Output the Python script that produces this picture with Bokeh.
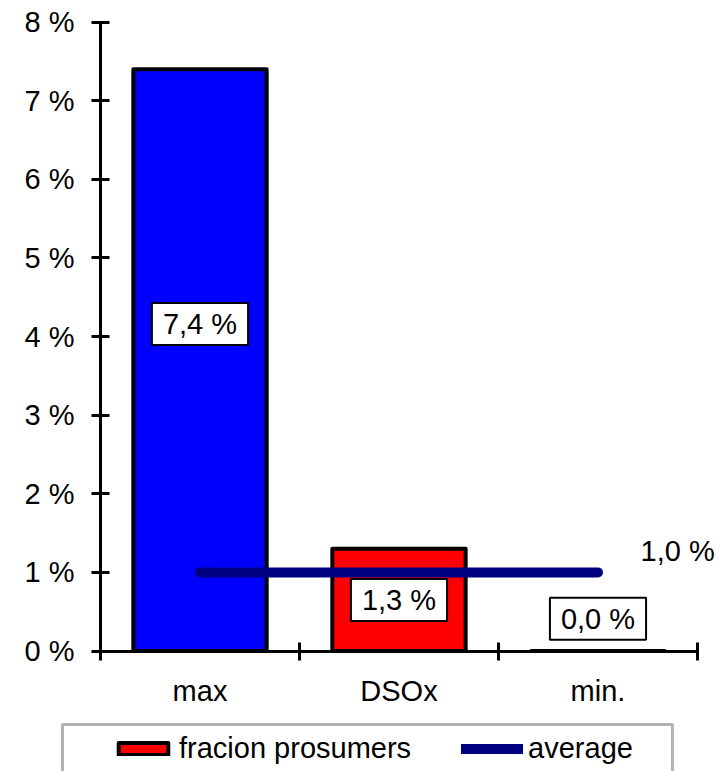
from bokeh.plotting import figure
from bokeh.models import Range1d, FixedTicker, Legend, LegendItem, Label, BoxAnnotation
from bokeh.embed import file_html
from bokeh.resources import INLINE

# ---- data ----
categories = ["max", "DSOx", "min."]
values = [7.4, 1.3, 0.0]
bar_colors = ["#0000FF", "#FF0000", "#FF0000"]
average = 1.0
y_ticks = [0, 1, 2, 3, 4, 5, 6, 7, 8]
y_tick_labels = ["0 %", "1 %", "2 %", "3 %", "4 %", "5 %", "6 %", "7 %", "8 %"]
series_name = "fracion prosumers"
average_name = "average"

# layout helpers (label positions, not data)
label_y = [4.16, 0.65, 0.41]
avg_label_pos = (2.9, 1.27)

FONT = "Liberation Sans"
FS = "29px"


def fmt(v):
    return f"{v:.1f} %".replace(".", ",")


xs = [i + 0.5 for i in range(len(categories))]

p = figure(width=724, height=771,
           x_range=Range1d(-0.5025, 3.1357), y_range=Range1d(-1.533, 8.276),
           output_backend="svg", toolbar_location=None, tools="",
           min_border_left=0, min_border_right=0, min_border_top=0, min_border_bottom=0)
p.outline_line_color = None
p.background_fill_color = "white"
p.border_fill_color = "white"
p.xgrid.visible = False
p.ygrid.visible = False

# bars
bars = p.vbar(x=xs, top=values, bottom=0, width=0.67, fill_color=bar_colors,
              line_color="black", line_width=4, line_join="round")

# average line
avg_line = p.line(x=[xs[0], xs[-1]], y=[average, average], line_color="#000080",
                  line_width=10, line_cap="round")

# axes
xa = p.xaxis[0]
xa.fixed_location = 0
xa.bounds = (0, len(categories))
xa.ticker = FixedTicker(ticks=xs, minor_ticks=list(range(len(categories) + 1)))
xa.major_label_overrides = {x: c for x, c in zip(xs, categories)}
xa.major_tick_line_color = None
xa.major_tick_in = 0
xa.major_tick_out = 0
xa.minor_tick_in = 9
xa.minor_tick_out = 9
xa.minor_tick_line_color = "black"
xa.minor_tick_line_width = 3
xa.axis_line_color = "black"
xa.axis_line_width = 3
xa.major_label_standoff = 15
xa.major_label_text_font = FONT
xa.major_label_text_font_size = FS
xa.major_label_text_color = "black"

ya = p.yaxis[0]
ya.fixed_location = 0
ya.bounds = (0, 8)
ya.ticker = FixedTicker(ticks=y_ticks, minor_ticks=[])
ya.major_label_overrides = {t: l for t, l in zip(y_ticks, y_tick_labels)}
ya.major_tick_in = 9
ya.major_tick_out = 9
ya.major_tick_line_width = 3
ya.major_tick_line_color = "black"
ya.axis_line_color = "black"
ya.axis_line_width = 3
ya.major_label_standoff = 17
ya.major_label_text_font = FONT
ya.major_label_text_font_size = FS
ya.major_label_text_color = "black"

# value labels
for x, v, ly in zip(xs, values, label_y):
    p.add_layout(Label(x=x, y=ly, text=fmt(v), text_align="center", text_baseline="middle",
                       text_font=FONT, text_font_size=FS, text_color="black",
                       background_fill_color="white", border_line_color="black",
                       border_line_width=2, padding=dict(left=11, right=11, top=5, bottom=5)))

p.add_layout(Label(x=avg_label_pos[0], y=avg_label_pos[1], text=fmt(average),
                   text_align="center", text_baseline="middle",
                   text_font=FONT, text_font_size=FS, text_color="black"))

# legend frame
p.add_layout(BoxAnnotation(left=-0.191, right=2.874, top=-0.935, bottom=-1.7,
                           fill_alpha=0, fill_color=None, line_color="black", line_width=3,
                           level="overlay"))

legend = Legend(items=[LegendItem(label=series_name, renderers=[bars], index=1),
                       LegendItem(label=average_name, renderers=[avg_line])],
                orientation="horizontal", location=(112, 6),
                glyph_width=62, glyph_height=15, label_standoff=5, spacing=50,
                padding=10, margin=0, border_line_color=None, background_fill_alpha=0,
                label_text_font=FONT, label_text_font_size=FS, label_text_color="black")
p.add_layout(legend)

open("out.html", "w").write(file_html(p, INLINE))
